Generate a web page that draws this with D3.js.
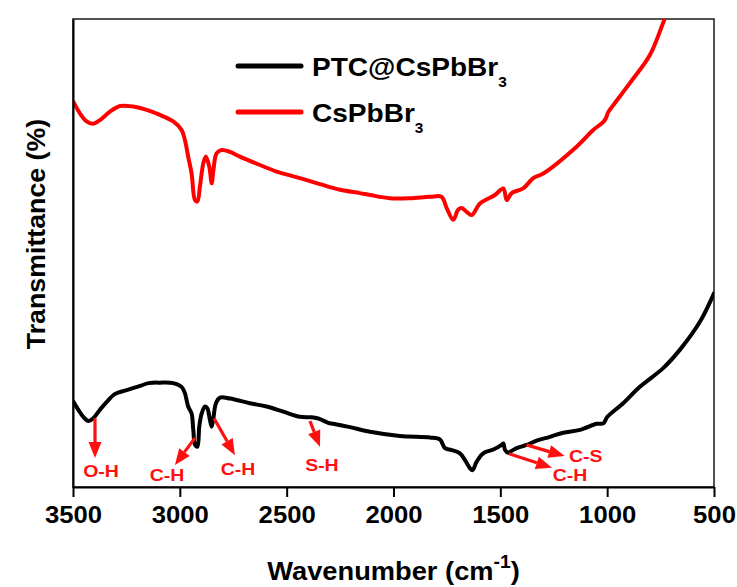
<!DOCTYPE html>
<html>
<head>
<meta charset="utf-8">
<script src="https://cdn.jsdelivr.net/npm/d3@7"></script>
<style>
  html, body { margin: 0; padding: 0; background: #fff; }
  svg { display: block; }
  text { font-family: "Liberation Sans", Arial, Helvetica, sans-serif; font-weight: bold; }
</style>
</head>
<body>
<svg id="chart" width="737" height="587"></svg>
<script>
// FTIR spectra: transmittance (arbitrary offset units) vs wavenumber (cm^-1)
const xTicks = [3500, 3000, 2500, 2000, 1500, 1000, 500];

const seriesNames = ["PTC@CsPbBr", "CsPbBr"];

// CsPbBr3 spectrum
const redWavenumber = [3498, 3467, 3436, 3408, 3374, 3327, 3280, 3218, 3155, 3093, 3031, 2992, 2976, 2961, 2945,
  2929, 2918, 2906, 2890, 2878, 2862, 2851, 2843, 2828, 2804, 2765, 2719, 2625, 2547, 2438, 2344, 2250, 2157, 2110,
  2017, 1923, 1829, 1775, 1751, 1720, 1698, 1681, 1658, 1634, 1595, 1525, 1486, 1470, 1447, 1393, 1346, 1299,
  1151, 1065, 1018, 1006, 995, 963, 894, 800, 730, 660];
const redTransmittance = [82.3, 79.8, 78.1, 77.6, 78.4, 80.2, 81.4, 81.3, 80.6, 79.5, 78.1, 76.3, 74.1, 70.6, 67.0,
  61.3, 61.0, 64.2, 69.2, 70.6, 68.4, 64.9, 67.7, 71.3, 72.0, 71.6, 70.6, 68.8, 67.4, 66.0, 64.7, 63.5, 62.8, 62.4,
  61.7, 61.7, 62.0, 62.0, 59.6, 57.1, 59.2, 59.6, 58.8, 58.1, 60.6, 62.4, 63.8, 61.3, 62.8, 63.8, 66.0, 67.0,
  72.4, 76.3, 78.0, 78.8, 80.1, 82.1, 86.3, 92.3, 100.1, 107.7];

// PTC@CsPbBr3 spectrum
const blackWavenumber = [3498, 3475, 3452, 3428, 3405, 3374, 3342, 3303, 3249, 3186, 3147, 3093, 3031, 2992, 2976,
  2961, 2945, 2937, 2929, 2918, 2909, 2898, 2882, 2871, 2859, 2851, 2843, 2831, 2812, 2765, 2672, 2594, 2516, 2438,
  2391, 2367, 2344, 2305, 2282, 2204, 2110, 1970, 1829, 1783, 1759, 1728, 1689, 1666, 1642, 1630, 1611, 1580, 1533,
  1494, 1486, 1478, 1463, 1455, 1424, 1377, 1330, 1268, 1206, 1127, 1049, 1018, 999, 925, 847, 738, 660, 566, 500];
const blackTransmittance = [18.2, 16.5, 15.0, 14.1, 14.7, 16.5, 18.2, 19.9, 20.7, 21.6, 22.2, 22.3, 22.2, 21.4, 20.0,
  17.2, 15.7, 12.2, 9.0, 8.6, 12.9, 15.7, 17.2, 16.8, 14.3, 12.9, 14.7, 17.9, 19.1, 18.9, 17.9, 17.2, 16.1, 15.0,
  14.9, 14.8, 14.5, 13.7, 13.5, 12.8, 11.8, 10.9, 10.6, 10.2, 8.3, 7.9, 7.2, 5.8, 4.0, 3.6, 5.4, 7.2, 8.0,
  9.0, 9.3, 7.9, 7.3, 7.5, 8.3, 9.0, 9.9, 10.7, 11.6, 12.2, 13.5, 13.6, 15.0, 17.9, 21.4, 25.4, 29.3, 35.3, 41.4];

// Band assignments: arrow from the band on the curve toward its label
const bandLabels = ["O-H", "C-H", "C-H", "S-H", "C-S", "C-H"];
const bandArrowFrom = [[3397, 14.7], [2929, 10.5], [2840, 14.7], [2391, 14.1], [1378, 9.0], [1459, 7.1]];
const bandArrowTo = [[3397, 6.2], [3023, 4.7], [2742, 6.8], [2344, 8.6], [1199, 6.6], [1258, 4.1]];
const bandLabelAt = [[3369, 3.3], [3060, 2.5], [2728, 3.9], [2335, 4.7], [1179, 6.6], [1255, 2.5]];
const bandLabelAnchor = ["middle", "middle", "middle", "middle", "start", "start"];

const W = 737, H = 587;
const margin = { top: 19, right: 23, bottom: 100, left: 73 };
const innerW = W - margin.left - margin.right;
const innerH = H - margin.top - margin.bottom;

const svg = d3.select("#chart");
svg.append("rect").attr("width", W).attr("height", H).attr("fill", "#fff");

const x = d3.scaleLinear().domain([3500, 500]).range([margin.left, W - margin.right]);
const y = d3.scaleLinear().domain([0, 100]).range([H - margin.bottom, margin.top]);

svg.append("clipPath").attr("id", "plot-clip")
  .append("rect")
  .attr("x", margin.left).attr("y", margin.top)
  .attr("width", innerW).attr("height", innerH);

// frame
svg.append("rect")
  .attr("x", margin.left).attr("y", margin.top)
  .attr("width", innerW).attr("height", innerH)
  .attr("fill", "none").attr("stroke", "#1a1a1a").attr("stroke-width", 1.5);

const line = d3.line()
  .x(d => x(d[0]))
  .y(d => y(d[1]))
  .curve(d3.curveCatmullRom.alpha(0.5));

const redData = redWavenumber.map((w, i) => [w, redTransmittance[i]]);
const blackData = blackWavenumber.map((w, i) => [w, blackTransmittance[i]]);

const curves = svg.append("g").attr("clip-path", "url(#plot-clip)");
curves.append("path").datum(redData)
  .attr("d", line).attr("fill", "none")
  .attr("stroke", "#ff0000").attr("stroke-width", 4)
  .attr("stroke-linejoin", "round").attr("stroke-linecap", "round");
curves.append("path").datum(blackData)
  .attr("d", line).attr("fill", "none")
  .attr("stroke", "#000").attr("stroke-width", 4)
  .attr("stroke-linejoin", "round").attr("stroke-linecap", "round");

// axes
const xAxis = d3.axisBottom(x).tickValues(xTicks).tickSize(10).tickSizeOuter(0).tickPadding(9)
  .tickFormat(d3.format("d"));
const gx = svg.append("g").attr("transform", `translate(0,${H - margin.bottom})`).call(xAxis);
gx.select(".domain").attr("stroke", "#000").attr("stroke-width", 2);
gx.selectAll(".tick line").attr("stroke", "#000").attr("stroke-width", 2);
gx.selectAll(".tick text")
  .attr("fill", "#000")
  .style("font-size", "24px")
  .attr("transform", "scale(1.07,1)");

const gy = svg.append("g").attr("transform", `translate(${margin.left},0)`)
  .call(d3.axisLeft(y).tickValues([]).tickSizeOuter(0));
gy.select(".domain").attr("stroke", "#000").attr("stroke-width", 2);

// axis titles
const xTitle = svg.append("text")
  .attr("transform", `translate(${(margin.left + W - margin.right) / 2},580) scale(1.07,1)`)
  .attr("text-anchor", "middle")
  .style("font-size", "25.5px").attr("fill", "#000");
xTitle.append("tspan").text("Wavenumber (cm");
xTitle.append("tspan").attr("dy", -12).style("font-size", "18px").text("-1");
xTitle.append("tspan").attr("dy", 12).text(")");

svg.append("text")
  .attr("transform", `translate(45,234) rotate(-90) scale(1.07,1)`)
  .attr("text-anchor", "middle")
  .style("font-size", "25px").attr("fill", "#000")
  .text("Transmittance (%)");

// legend
const legendColors = ["#000", "#ff0000"];
const legendY = [66, 112];
legendColors.forEach((c, i) => {
  svg.append("line")
    .attr("x1", 238).attr("x2", 301)
    .attr("y1", legendY[i]).attr("y2", legendY[i])
    .attr("stroke", c).attr("stroke-width", 5).attr("stroke-linecap", "round");
  const t = svg.append("text")
    .attr("transform", `translate(312,${legendY[i] + 9.5}) scale(1.1,1)`)
    .style("font-size", "25.5px").attr("fill", "#000");
  t.append("tspan").text(seriesNames[i]);
  t.append("tspan").attr("dy", 11).style("font-size", "14px").text("3");
});

// band annotations
const red = "#ff1010";
const ann = svg.append("g");
bandLabels.forEach((lab, i) => {
  const x0 = x(bandArrowFrom[i][0]), y0 = y(bandArrowFrom[i][1]);
  const x1 = x(bandArrowTo[i][0]), y1 = y(bandArrowTo[i][1]);
  const ang = Math.atan2(y1 - y0, x1 - x0);
  const headLen = 16, headHalf = 6.5;
  const bx = x1 - headLen * Math.cos(ang), by = y1 - headLen * Math.sin(ang);
  const px = -Math.sin(ang), py = Math.cos(ang);
  ann.append("line")
    .attr("x1", x0).attr("y1", y0).attr("x2", bx).attr("y2", by)
    .attr("stroke", red).attr("stroke-width", 3.2);
  ann.append("path")
    .attr("d", `M${x1},${y1}L${bx + px * headHalf},${by + py * headHalf}L${bx - px * headHalf},${by - py * headHalf}Z`)
    .attr("fill", red);
  ann.append("text")
    .attr("transform", `translate(${x(bandLabelAt[i][0])},${y(bandLabelAt[i][1])}) scale(1.18,1)`)
    .attr("dy", "0.36em")
    .attr("text-anchor", bandLabelAnchor[i])
    .style("font-size", "16.5px").attr("fill", red)
    .text(lab);
});
</script>
</body>
</html>
